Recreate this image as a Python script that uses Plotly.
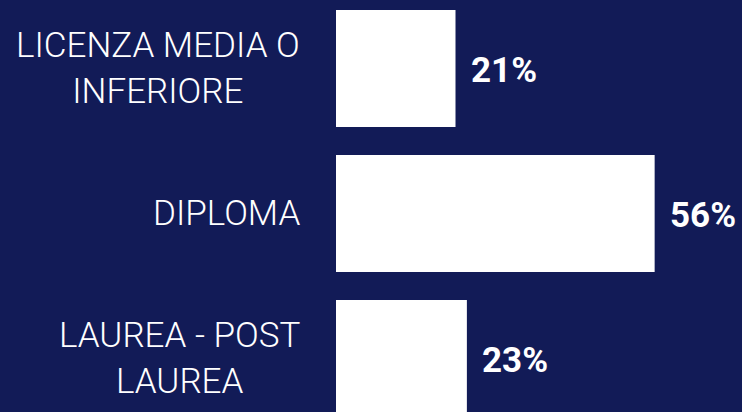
import plotly.graph_objects as go

categories = ["LICENZA MEDIA O<br>INFERIORE", "DIPLOMA", "LAUREA - POST<br>LAUREA"]
values = [21, 56, 23]
value_labels = ["21%", "56%", "23%"]

BG = "#121b57"

fig = go.Figure()
fig.add_trace(go.Bar(
    y=categories, x=values, orientation="h",
    marker=dict(color="#ffffff", line=dict(width=0)),
    hoverinfo="skip",
))

for c, v, t in zip(categories, values, value_labels):
    fig.add_annotation(
        x=v, y=c, text=t, showarrow=False, xanchor="left", yanchor="middle",
        xshift=13, yshift=-2,
        font=dict(family="Roboto", size=35, color="#ffffff", weight="bold"),
    )
    # category labels, centred multi-line like the original
    fig.add_annotation(
        x=0, xref="paper", y=c, text=c, showarrow=False,
        xanchor="right", yanchor="middle", align="center",
        xshift=-34, yshift=0,
        font=dict(family="Roboto", size=35, color="#ffffff", weight=300),
    )

fig.update_layout(
    width=742, height=412,
    paper_bgcolor=BG, plot_bgcolor=BG,
    margin=dict(l=336, r=0, t=0, b=0),
    bargap=0.193,
    showlegend=False,
    xaxis=dict(range=[0, 71.35], visible=False, fixedrange=True),
    yaxis=dict(
        type="category",
        range=[2.369, -0.4724],
        showgrid=False, zeroline=False, showline=False,
        ticks="", showticklabels=False,
    ),
)

fig.write_html(
    "out.html",
    config={"displayModeBar": False},
    post_script="document.body.style.margin='0';document.body.style.background='%s';" % BG,
)
